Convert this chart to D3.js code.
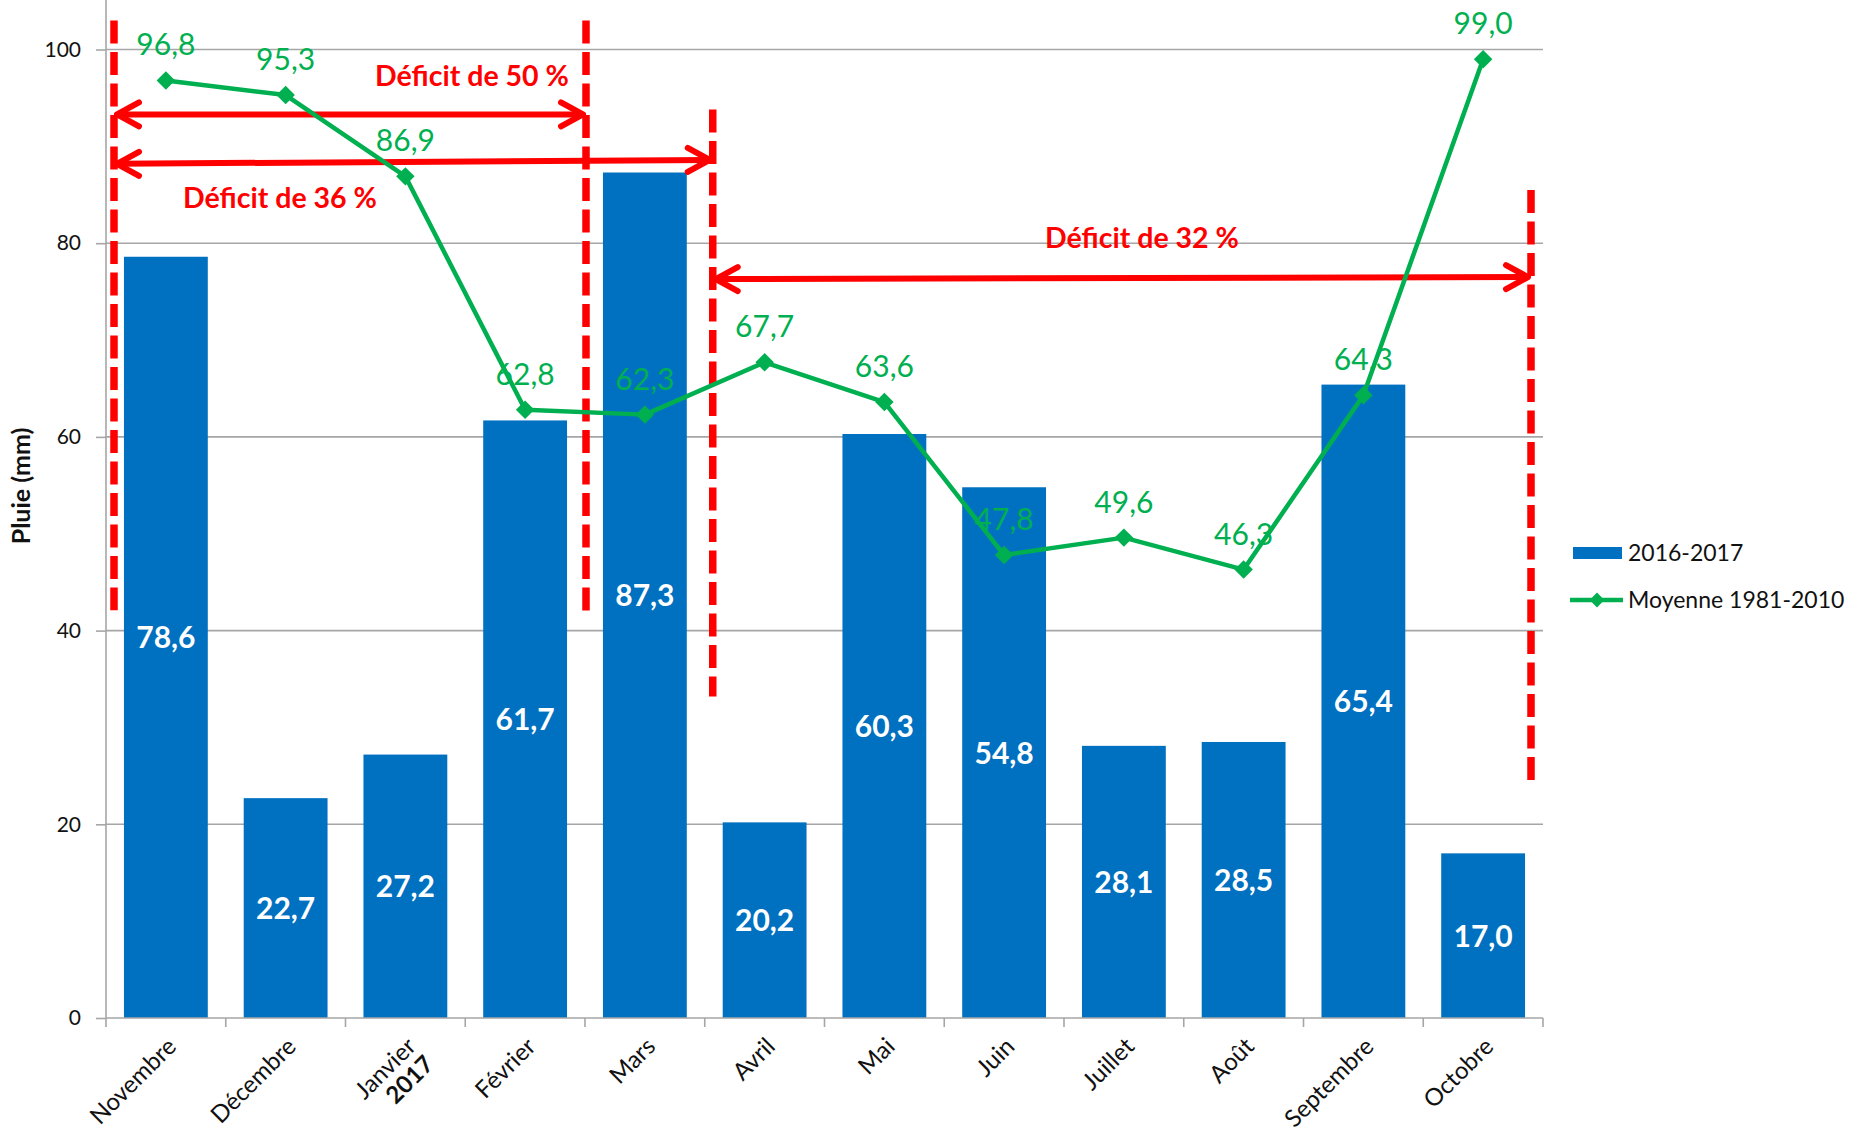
<!DOCTYPE html>
<html>
<head>
<meta charset="utf-8">
<script src="https://cdn.jsdelivr.net/npm/d3@7"></script>
<style>
  html, body { margin: 0; padding: 0; background: #fff; }
  svg { display: block; font-family: Lato, "Open Sans", sans-serif; }
</style>
</head>
<body>
<svg id="chart" width="1850" height="1137"></svg>
<script>
// ---- data ----
const months = ["Novembre", "Décembre", "Janvier", "Février", "Mars", "Avril", "Mai", "Juin", "Juillet", "Août", "Septembre", "Octobre"];
const monthSubLabels = ["", "", "2017", "", "", "", "", "", "", "", "", ""];
const rain2016 = [78.6, 22.7, 27.2, 61.7, 87.3, 20.2, 60.3, 54.8, 28.1, 28.5, 65.4, 17.0];
const normal8110 = [96.8, 95.3, 86.9, 62.8, 62.3, 67.7, 63.6, 47.8, 49.6, 46.3, 64.3, 99.0];
const yTicks = [0, 20, 40, 60, 80, 100];
const seriesNames = ["2016-2017", "Moyenne 1981-2010"];
const yTitle = "Pluie (mm)";
const deficitLabels = ["Déficit de 50 %", "Déficit de 36 %", "Déficit de 32 %"];

// ---- layout ----
const svg = d3.select("#chart");
const left = 106, right = 1543, bottom = 1018, top100 = 49.5;
const BLUE = "#0070C0", GREEN = "#00B050", RED = "#FF0000", GRID = "#A6A6A6";

const x = d3.scaleBand().domain(months).range([left, right]).paddingInner(0.3).paddingOuter(0.15);
const y = d3.scaleLinear().domain([0, 100]).range([bottom, top100]);
const step = x.step();
const boundary = i => left + i * step;
const cx = m => x(m) + x.bandwidth() / 2;

const fr = d3.formatLocale({decimal: ",", thousands: " ", grouping: [3], currency: ["", " €"]});
const fmt = fr.format(".1f");

// gridlines
svg.append("g").selectAll("line").data(yTicks.filter(t => t > 0)).join("line")
  .attr("x1", left).attr("x2", right)
  .attr("y1", d => y(d)).attr("y2", d => y(d))
  .attr("stroke", GRID).attr("stroke-width", 1.6);

// y axis
const yAxis = svg.append("g").attr("transform", `translate(${left},0)`)
  .call(d3.axisLeft(y).tickValues(yTicks).tickSize(10).tickPadding(15).tickFormat(d3.format("d")));
yAxis.select(".domain").remove();
yAxis.selectAll(".tick line").attr("stroke", GRID).attr("stroke-width", 1.6);
yAxis.selectAll(".tick text").attr("font-size", 21).attr("fill", "#111").attr("font-family", "Lato, sans-serif");
svg.append("line").attr("x1", left).attr("x2", left).attr("y1", 0).attr("y2", bottom)
  .attr("stroke", GRID).attr("stroke-width", 1.6);

// y title
svg.append("text").attr("transform", `translate(30,486) rotate(-90)`)
  .attr("text-anchor", "middle").attr("font-size", 25).attr("font-weight", "bold").attr("fill", "#111")
  .text(yTitle);

// bars
svg.append("g").selectAll("rect").data(months).join("rect")
  .attr("x", d => x(d)).attr("width", x.bandwidth())
  .attr("y", (d, i) => y(rain2016[i])).attr("height", (d, i) => y(0) - y(rain2016[i]))
  .attr("fill", BLUE);

// x axis line + ticks
svg.append("line").attr("x1", left).attr("x2", right).attr("y1", bottom).attr("y2", bottom)
  .attr("stroke", GRID).attr("stroke-width", 1.6);
svg.append("g").selectAll("line").data(d3.range(months.length + 1)).join("line")
  .attr("x1", i => boundary(i)).attr("x2", i => boundary(i))
  .attr("y1", bottom).attr("y2", bottom + 9)
  .attr("stroke", GRID).attr("stroke-width", 1.6);

// x labels
const xl = svg.append("g").selectAll("text").data(months).join("text")
  .attr("transform", d => `translate(${cx(d) + 6},${bottom + 24}) rotate(-45)`)
  .attr("text-anchor", "end").attr("font-size", 24).attr("fill", "#111");
xl.append("tspan").attr("x", 0).attr("dy", "0.35em").text(d => d);
xl.filter(d => monthSubLabels[months.indexOf(d)] !== "").append("tspan")
  .attr("x", 0).attr("dy", "1.05em").attr("font-weight", "bold")
  .text(d => monthSubLabels[months.indexOf(d)]);

// bar value labels
svg.append("g").selectAll("text").data(months).join("text")
  .attr("x", d => cx(d))
  .attr("y", (d, i) => (y(rain2016[i]) + y(0)) / 2 + 11)
  .attr("text-anchor", "middle").attr("font-size", 30).attr("font-weight", "bold").attr("fill", "#fff")
  .text((d, i) => fmt(rain2016[i]));

// annotations: dashed verticals
const vlines = [
  {b: 0, off: 8, y1: 103, y2: 42.1},
  {b: 4, off: 1, y1: 103, y2: 41.9},
  {b: 5, off: 8, y1: 93.8, y2: 33.2},
  {b: 12, off: -12, y1: 85.5, y2: 24.5}
];
svg.append("g").selectAll("line").data(vlines).join("line")
  .attr("x1", d => boundary(d.b) + d.off).attr("x2", d => boundary(d.b) + d.off)
  .attr("y1", d => y(d.y1)).attr("y2", d => y(d.y2))
  .attr("stroke", RED).attr("stroke-width", 7.5).attr("stroke-dasharray", "23 8.5");

// double arrows
const arrows = [
  {b1: 0, o1: 8, b2: 4, o2: 1, v1: 93.3, v2: 93.3},
  {b1: 0, o1: 8, b2: 5, o2: 8, v1: 88.2, v2: 88.6},
  {b1: 5, o1: 8, b2: 12, o2: -12, v1: 76.3, v2: 76.5}
];
const ag = svg.append("g").attr("stroke", RED).attr("stroke-width", 6).attr("fill", "none")
  .attr("stroke-linecap", "round").attr("stroke-linejoin", "round");
arrows.forEach(a => {
  const x1 = boundary(a.b1) + a.o1 + 3, x2 = boundary(a.b2) + a.o2 - 3;
  const y1 = y(a.v1), y2 = y(a.v2);
  ag.append("line").attr("x1", x1).attr("x2", x2).attr("y1", y1).attr("y2", y2).attr("stroke-linecap", "butt");
  ag.append("path").attr("d", `M${x1 + 22},${y1 - 12} L${x1},${y1} L${x1 + 22},${y1 + 12}`);
  ag.append("path").attr("d", `M${x2 - 22},${y2 - 12} L${x2},${y2} L${x2 - 22},${y2 + 12}`);
});

// deficit texts
const dText = [
  {cx: 472, v: 96.2},
  {cx: 280, v: 83.6},
  {cx: 1142, v: 79.5}
];
svg.append("g").selectAll("text").data(deficitLabels).join("text")
  .attr("x", (d, i) => dText[i].cx).attr("y", (d, i) => y(dText[i].v))
  .attr("text-anchor", "middle").attr("font-size", 28.5).attr("font-weight", "bold").attr("fill", RED)
  .text(d => d);

// average line
const line = d3.line().x((d, i) => cx(months[i])).y(d => y(d));
svg.append("path").datum(normal8110).attr("d", line)
  .attr("fill", "none").attr("stroke", GREEN).attr("stroke-width", 4.5).attr("stroke-linejoin", "round");
const diamond = d3.symbol().type(d3.symbolSquare).size(170);
svg.append("g").selectAll("path").data(normal8110).join("path")
  .attr("transform", (d, i) => `translate(${cx(months[i])},${y(d)}) rotate(45)`)
  .attr("d", diamond).attr("fill", GREEN);
svg.append("g").selectAll("text").data(normal8110).join("text")
  .attr("x", (d, i) => cx(months[i])).attr("y", d => y(d) - 25)
  .attr("text-anchor", "middle").attr("font-size", 30).attr("fill", GREEN)
  .text(d => fmt(d));

// legend
const lg = svg.append("g");
lg.append("rect").attr("x", 1573).attr("y", 547).attr("width", 49).attr("height", 12).attr("fill", BLUE);
lg.append("text").attr("x", 1628).attr("y", 561).attr("font-size", 23).attr("fill", "#111").text(seriesNames[0]);
lg.append("line").attr("x1", 1570).attr("x2", 1623).attr("y1", 600).attr("y2", 600)
  .attr("stroke", GREEN).attr("stroke-width", 4.5);
lg.append("path").attr("transform", "translate(1597,600) rotate(45)").attr("d", d3.symbol().type(d3.symbolSquare).size(110)).attr("fill", GREEN);
lg.append("text").attr("x", 1628).attr("y", 608).attr("font-size", 23).attr("fill", "#111").text(seriesNames[1]);
</script>
</body>
</html>
